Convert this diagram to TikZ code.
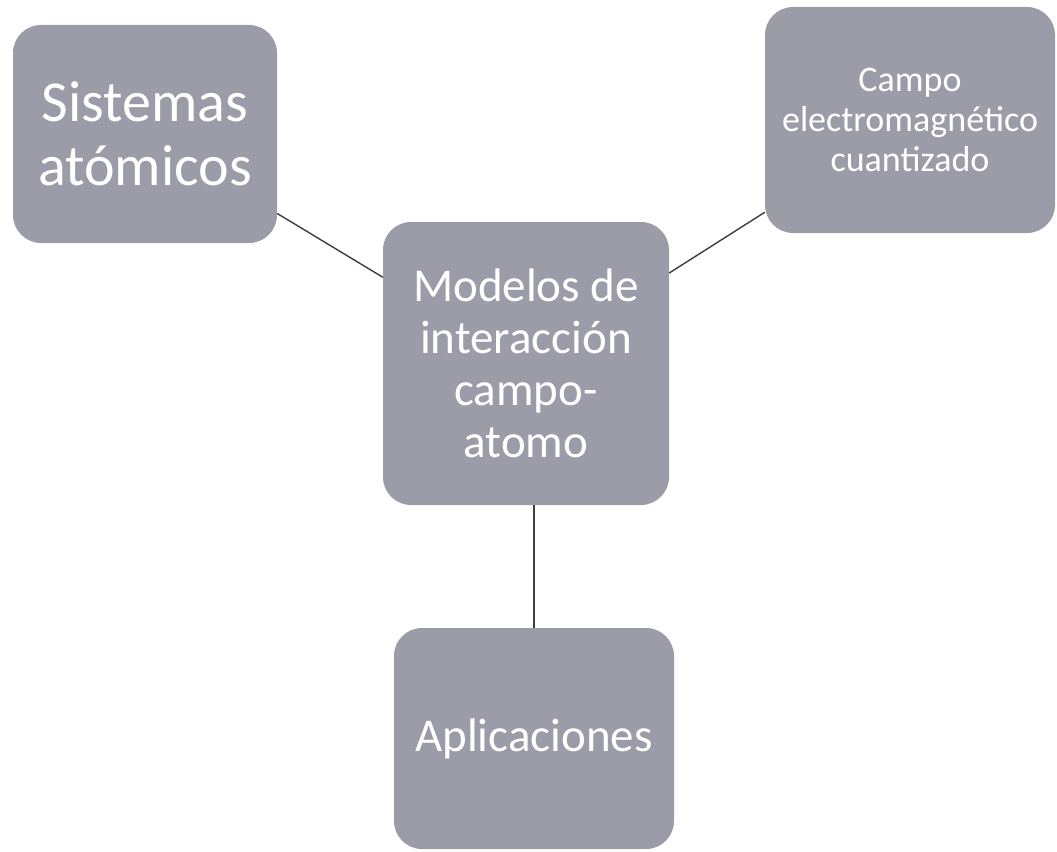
\documentclass[tikz,border=0pt]{standalone}
\usepackage{fontspec}
\setmainfont{Carlito}
\definecolor{boxgray}{RGB}{156,156,168}
\definecolor{linegray}{RGB}{60,60,60}
\tikzset{
  box/.style={rectangle, rounded corners=28pt, fill=boxgray, text=white, align=center, inner sep=0pt},
  link/.style={draw=linegray, line width=1.4pt}
}
\begin{document}
\begin{tikzpicture}[x=1pt,y=-1pt]
\useasboundingbox (0,0) rectangle (1057,851);
\node[box, minimum width=264pt, minimum height=218pt, font=\fontsize{58}{64}\selectfont] (b1) at (145,134) {Sistemas\\atómicos};
\node[box, minimum width=290pt, minimum height=226pt, font=\fontsize{36}{40}\selectfont] (b2) at (910,120) {Campo\\electromagnético\\cuantizado};
\node[box, minimum width=286pt, minimum height=283pt, font=\fontsize{47}{52}\selectfont] (b3) at (526,363.5) {Modelos de\\interacción\\campo-\\atomo};
\node[box, minimum width=280pt, minimum height=221pt, font=\fontsize{47}{52}\selectfont] (b4) at (534,738.5) {Aplicaciones};
\draw[link] (b1) -- (b3);
\draw[link] (b2) -- (b3);
\draw[link] (b4.north) -- (b4.north |- b3.south);
\end{tikzpicture}
\end{document}
